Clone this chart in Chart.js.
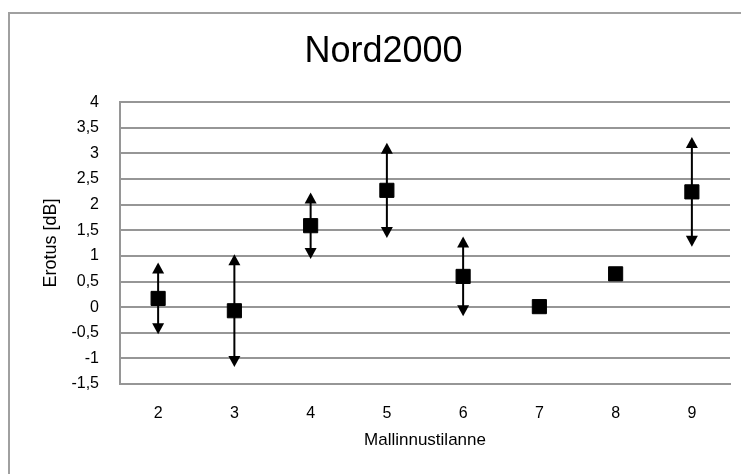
<!DOCTYPE html>
<html>
<head>
<meta charset="utf-8">
<script src="https://cdn.jsdelivr.net/npm/chart.js@4/dist/chart.umd.min.js"></script>
<style>
    html, body { margin: 0; padding: 0; background: #fff; }
    #wrap { width: 741px; height: 474px; position: relative; }
</style>
</head>
<body>
<div id="wrap"><canvas id="nord-chart"></canvas></div>
<script>
// Mallinnustilanteet ja erotukset [dB]
const categories = ['2', '3', '4', '5', '6', '7', '8', '9'];
const differences = [0.17, -0.07, 1.59, 2.28, 0.6, 0.01, 0.65, 2.25];
// virhepalkkien ylä- ja alapäät (null = ei palkkia)
const errorTop = [0.87, 1.03, 2.24, 3.21, 1.38, null, null, 3.32];
const errorBottom = [-0.53, -1.17, 0.94, 1.35, -0.18, null, null, 1.18];
const yTicks = [-1.5, -1, -0.5, 0, 0.5, 1, 1.5, 2, 2.5, 3, 3.5, 4];

const FONT = "'Liberation Sans', Arial, sans-serif";

// outer frame (cut off at the right and bottom like the original)
const framePlugin = {
    id: 'frame',
    beforeDraw(chart) {
        const ctx = chart.ctx;
        ctx.save();
        ctx.fillStyle = '#fff';
        ctx.fillRect(0, 0, chart.width, chart.height);
        ctx.strokeStyle = '#a0a0a0';
        ctx.lineWidth = 2;
        ctx.strokeRect(9, 13, chart.width + 20, chart.height + 20);
        ctx.restore();
    }
};

// error bars with arrow heads
const errorBarPlugin = {
    id: 'errorBars',
    afterDatasetsDraw(chart) {
        const ctx = chart.ctx;
        const x = chart.scales.x, y = chart.scales.y;
        ctx.save();
        ctx.strokeStyle = '#000';
        ctx.fillStyle = '#000';
        ctx.lineWidth = 2;
        categories.forEach((c, i) => {
            if(errorTop[i] == null) return;
            const px = x.getPixelForValue(i);
            const top = y.getPixelForValue(errorTop[i]);
            const bot = y.getPixelForValue(errorBottom[i]);
            const hw = 6, hh = 11;
            ctx.beginPath();
            ctx.moveTo(px, top + hh - 1);
            ctx.lineTo(px, bot - hh + 1);
            ctx.stroke();
            ctx.beginPath();
            ctx.moveTo(px, top);
            ctx.lineTo(px - hw, top + hh);
            ctx.lineTo(px + hw, top + hh);
            ctx.closePath();
            ctx.fill();
            ctx.beginPath();
            ctx.moveTo(px, bot);
            ctx.lineTo(px - hw, bot - hh);
            ctx.lineTo(px + hw, bot - hh);
            ctx.closePath();
            ctx.fill();
        });
        ctx.restore();
    }
};

document.addEventListener('DOMContentLoaded', () => {
    const ctx = document.getElementById('nord-chart');
    new Chart(ctx, {
        type: 'line',
        data: {
            labels: categories,
            datasets: [{
                data: differences,
                showLine: false,
                pointStyle: 'rect',
                pointRadius: 10,
                pointHoverRadius: 10,
                pointBackgroundColor: '#000',
                pointBorderColor: '#000',
                pointBorderWidth: 1
            }]
        },
        options: {
            responsive: true,
            maintainAspectRatio: false,
            animation: false,
            devicePixelRatio: 1,
            // left padding keeps the title centred on the (wider) frame
            layout: { padding: { left: 36, right: 10, top: 0, bottom: 0 } },
            plugins: {
                legend: { display: false },
                tooltip: { enabled: false },
                title: {
                    display: true,
                    text: 'Nord2000',
                    color: '#000',
                    font: { family: FONT, size: 36, weight: 'normal' },
                    padding: { top: 30, bottom: 29 }
                }
            },
            scales: {
                x: {
                    offset: true,
                    grid: { display: false, drawTicks: false },
                    border: { display: true, color: '#969696', width: 2 },
                    ticks: {
                        color: '#000',
                        padding: 20,
                        font: { family: FONT, size: 16 }
                    },
                    title: {
                        display: true,
                        text: 'Mallinnustilanne',
                        color: '#000',
                        font: { family: FONT, size: 17 },
                        padding: { top: 0, bottom: 23 }
                    },
                    afterFit: (scale) => { scale.height = 90; }
                },
                y: {
                    min: -1.5,
                    max: 4,
                    afterBuildTicks: (scale) => {
                        scale.ticks = yTicks.map((v) => ({ value: v }));
                    },
                    grid: { color: '#969696', lineWidth: 2, drawTicks: false },
                    border: { display: true, color: '#969696', width: 2 },
                    ticks: {
                        color: '#000',
                        padding: 21,
                        font: { family: FONT, size: 16 },
                        callback: (v) => String(v).replace('.', ',')
                    },
                    title: {
                        display: true,
                        text: 'Erotus [dB]',
                        color: '#000',
                        font: { family: FONT, size: 18 },
                        padding: { top: 4, bottom: 0 }
                    },
                    afterFit: (scale) => { scale.width = 84; }
                }
            }
        },
        plugins: [framePlugin, errorBarPlugin]
    });
});
</script>
</body>
</html>
